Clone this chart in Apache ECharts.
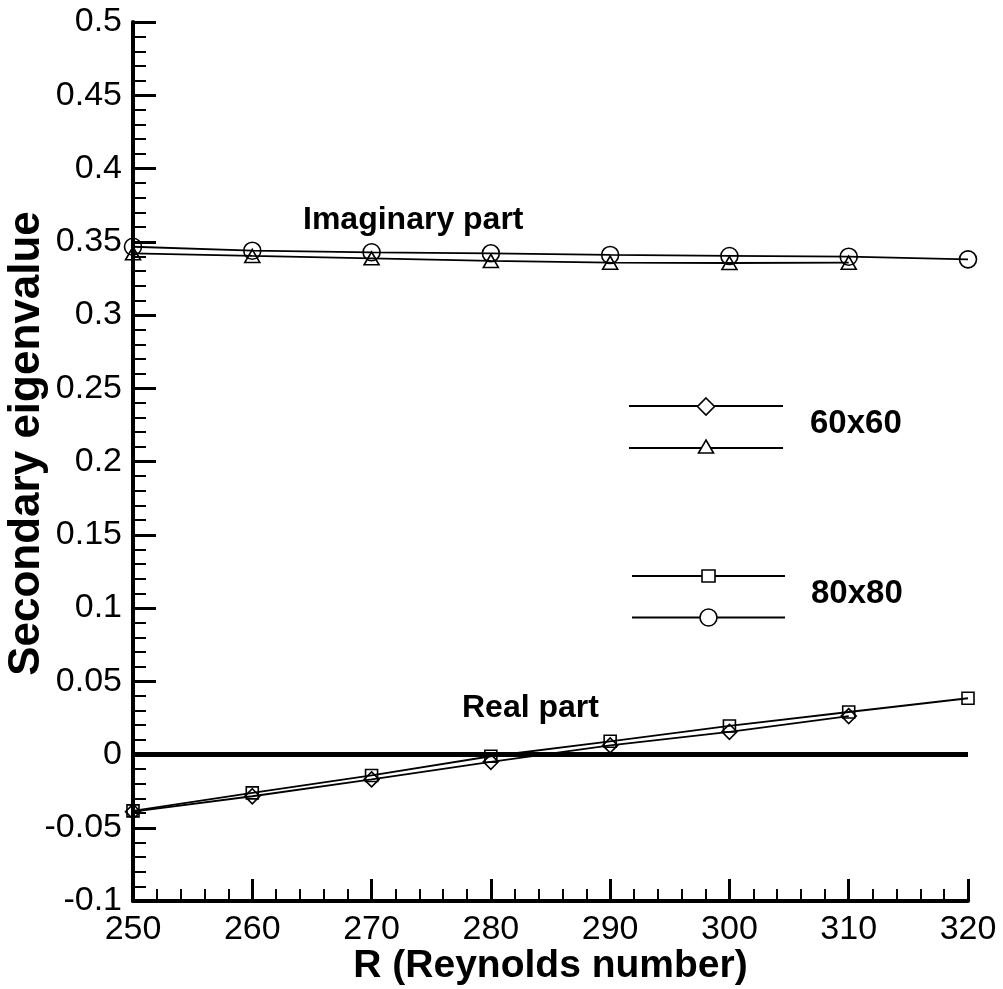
<!DOCTYPE html>
<html>
<head>
<meta charset="utf-8">
<script src="https://cdn.jsdelivr.net/npm/echarts@6/dist/echarts.min.js"></script>
<style>
  html, body { margin: 0; padding: 0; background: #fff; }
  #chart { width: 1003px; height: 989px; }
</style>
</head>
<body>
<div id="chart"></div>
<script>
// ---- data ----
const reynolds60 = [250, 260, 270, 280, 290, 300, 310];
const reynolds80 = [250, 260, 270, 280, 290, 300, 310, 320];
const imag60 = [0.3421, 0.3403, 0.3387, 0.3369, 0.3357, 0.3355, 0.3357];
const real60 = [-0.0390, -0.0285, -0.0170, -0.0050, 0.0062, 0.0155, 0.0262];
const imag80 = [0.3466, 0.3439, 0.3428, 0.3421, 0.3410, 0.3403, 0.3398, 0.3380];
const real80 = [-0.0385, -0.0262, -0.0143, -0.0012, 0.0090, 0.0195, 0.0290, 0.0384];
const gridLabels = ['60x60', '80x80'];
const partLabels = ['Imaginary part', 'Real part'];
const xTitle = 'R (Reynolds number)';
const yTitle = 'Secondary eigenvalue';

const FONT = "'Liberation Sans', Arial, Helvetica, sans-serif";
const zip = (xs, ys) => xs.map((x, i) => [x, ys[i]]);

function lineSeries(name, xs, ys, symbol, size) {
  return {
    name, type: 'line', data: zip(xs, ys),
    symbol, symbolSize: size, showSymbol: true,
    lineStyle: { color: '#000', width: 1.8 },
    itemStyle: { color: 'transparent', borderColor: '#000', borderWidth: 1.6 },
    clip: false, z: 3
  };
}

const chart = echarts.init(document.getElementById('chart'), null, { renderer: 'canvas' });

const legendStyle = { fill: '#fff', stroke: '#000', lineWidth: 1.6 };
const lineStyleG = { stroke: '#000', lineWidth: 2 };

const option = {
  backgroundColor: '#fff',
  animation: false,
  grid: { left: 133, right: 35, top: 22, bottom: 88, containLabel: false, outerBoundsMode: 'none' },
  xAxis: {
    type: 'value', min: 250, max: 320, interval: 10,
    name: xTitle, nameLocation: 'middle', nameGap: 46, nameMoveOverlap: false,
    nameTextStyle: { fontFamily: FONT, fontWeight: 'bold', fontSize: 39, color: '#000' },
    axisLine: { show: true, onZero: false, lineStyle: { color: '#000', width: 4 } },
    axisTick: { show: true, inside: true, length: 22, lineStyle: { color: '#000', width: 3 } },
    minorTick: { show: true, splitNumber: 5, length: 12, lineStyle: { color: '#000', width: 2 } },
    axisLabel: { fontFamily: FONT, fontSize: 34, color: '#000', margin: 12 },
    splitLine: { show: false }
  },
  yAxis: {
    type: 'value', min: -0.1, max: 0.5, interval: 0.05,
    name: yTitle, nameLocation: 'middle', nameGap: 84, nameMoveOverlap: false,
    nameTextStyle: { fontFamily: FONT, fontWeight: 'bold', fontSize: 44, color: '#000', padding: [0, 0, 0, 36] },
    axisLine: { show: true, onZero: false, lineStyle: { color: '#000', width: 4 } },
    axisTick: { show: true, inside: true, length: 23, lineStyle: { color: '#000', width: 3 } },
    minorTick: { show: true, splitNumber: 5, length: 13, lineStyle: { color: '#000', width: 2 } },
    axisLabel: { fontFamily: FONT, fontSize: 34, color: '#000', margin: 11 },
    splitLine: { show: false }
  },
  series: [
    lineSeries('80x80 imaginary', reynolds80, imag80, 'circle', 17),
    lineSeries('60x60 imaginary', reynolds60, imag60, 'triangle', [15, 13]),
    Object.assign(lineSeries('80x80 real', reynolds80, real80, 'rect', 12), {
      markLine: {
        silent: true, symbol: 'none', label: { show: false },
        lineStyle: { color: '#000', width: 5, type: 'solid' },
        data: [{ yAxis: 0 }]
      }
    }),
    lineSeries('60x60 real', reynolds60, real60, 'diamond', 15)
  ],
  graphic: [
    { type: 'text', left: 303, top: 204, style: { text: partLabels[0], font: `bold 32px ${FONT}`, fill: '#000' } },
    { type: 'text', left: 462, top: 692, style: { text: partLabels[1], font: `bold 32px ${FONT}`, fill: '#000' } },
    // legend: 60x60
    { type: 'line', shape: { x1: 629, y1: 406, x2: 783, y2: 406 }, style: lineStyleG },
    { type: 'polygon', shape: { points: [[706, 398], [714.5, 406.5], [706, 415], [697.5, 406.5]] }, style: legendStyle },
    { type: 'line', shape: { x1: 629, y1: 448, x2: 783, y2: 448 }, style: lineStyleG },
    { type: 'polygon', shape: { points: [[706, 440], [713.5, 453], [698.5, 453]] }, style: legendStyle },
    { type: 'text', left: 810, top: 407, style: { text: gridLabels[0], font: `bold 33px ${FONT}`, fill: '#000' } },
    // legend: 80x80
    { type: 'line', shape: { x1: 632, y1: 576, x2: 785, y2: 576 }, style: lineStyleG },
    { type: 'rect', shape: { x: 702, y: 570, width: 13, height: 12 }, style: legendStyle },
    { type: 'line', shape: { x1: 632, y1: 617.5, x2: 785, y2: 617.5 }, style: lineStyleG },
    { type: 'circle', shape: { cx: 708.5, cy: 617.5, r: 8.5 }, style: legendStyle },
    { type: 'text', left: 811, top: 577, style: { text: gridLabels[1], font: `bold 33px ${FONT}`, fill: '#000' } }
  ]
};

chart.setOption(option);
</script>
</body>
</html>
